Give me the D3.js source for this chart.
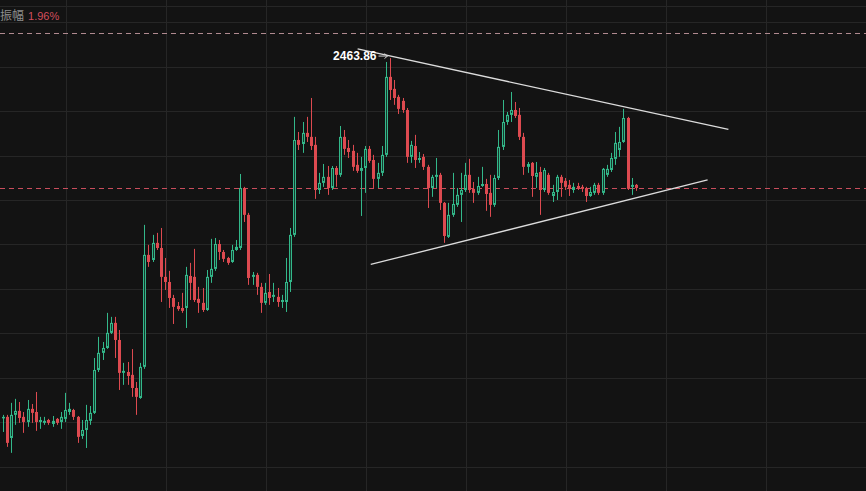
<!DOCTYPE html>
<html><head><meta charset="utf-8">
<script src="https://cdn.jsdelivr.net/npm/d3@7"></script>
<style>html,body{margin:0;padding:0;background:#131313;overflow:hidden}</style>
</head><body><svg id="c" width="866" height="491"></svg>
<script>
// ---- data (OHLC, one candle per period) ----
const opens=[2301.9,2302.4,2292.9,2303.3,2305.1,2302.4,2300.1,2306.0,2304.6,2300.1,2299.7,2301.0,2299.2,2301.5,2300.1,2301.5,2304.6,2305.5,2302.4,2293.8,
2296.5,2300.6,2304.2,2323.5,2331.2,2333.4,2340.2,2344.7,2337.0,2322.2,2322.6,2321.3,2315.4,2310.9,2324.9,2375.3,2373.0,2380.7,2378.4,2365.4,
2363.1,2355.9,2352.3,2351.4,2351.4,2365.8,2365.4,2355.5,2353.7,2350.5,2365.4,2369.0,2380.2,2376.6,2373.9,2372.1,2377.5,2378.4,2405.4,2393.3,
2365.4,2366.3,2360.9,2353.7,2358.6,2356.4,2356.4,2354.1,2354.1,2363.1,2384.3,2427.0,2425.2,2430.2,2428.4,2424.8,2404.5,2407.7,2410.4,2405.4,
2414.4,2411.3,2428.4,2423.4,2422.1,2415.8,2413.1,2414.4,2423.0,2418.0,2409.5,2412.2,2420.3,2455.4,2450.0,2446.4,2444.6,2440.5,2419.4,2424.3,
2418.0,2419.4,2414.9,2405.4,2410.4,2411.3,2398.7,2383.4,2393.3,2397.8,2402.3,2404.5,2411.3,2405.0,2403.2,2406.3,2407.2,2403.2,2397.8,2409.9,
2423.9,2435.1,2438.3,2440.5,2438.3,2428.4,2414.9,2416.7,2410.4,2412.6,2404.5,2411.3,2401.8,2403.6,2410.4,2408.6,2406.8,2404.5,2406.3,2405.9,
2405.0,2401.8,2403.2,2406.8,2403.2,2411.3,2413.5,2418.5,2422.5,2426.1,2436.9,2405.9,2406.8];
const highs=[2303.3,2303.3,2308.7,2310.5,2309.1,2304.6,2310.0,2308.2,2313.6,2302.4,2302.4,2301.5,2302.8,2301.9,2304.6,2313.2,2308.7,2306.0,2302.8,2301.0,
2307.8,2307.3,2328.9,2338.4,2336.1,2349.2,2347.4,2347.4,2341.5,2326.7,2327.1,2332.9,2318.1,2326.7,2388.8,2379.8,2384.3,2385.2,2387.4,2373.9,
2368.1,2357.3,2354.1,2358.2,2369.9,2371.7,2378.0,2360.9,2360.4,2368.5,2382.5,2382.9,2382.0,2377.5,2374.4,2379.8,2382.0,2411.7,2405.9,2394.2,
2367.6,2367.2,2362.7,2362.7,2366.7,2362.7,2360.4,2357.3,2373.9,2387.4,2437.4,2430.6,2435.1,2437.4,2445.9,2428.4,2412.2,2416.2,2415.3,2415.3,
2415.3,2433.3,2431.5,2427.0,2424.8,2421.2,2419.4,2424.3,2424.3,2420.3,2416.7,2424.3,2462.1,2463.86,2454.0,2447.3,2445.9,2441.4,2426.6,2429.3,
2421.6,2420.7,2415.8,2411.3,2418.9,2412.2,2399.1,2398.7,2412.2,2405.4,2412.2,2416.7,2418.5,2408.1,2410.4,2414.9,2409.5,2411.3,2411.3,2431.5,
2445.0,2439.6,2448.6,2444.1,2441.4,2430.2,2417.1,2417.1,2417.1,2414.9,2414.4,2412.2,2406.8,2411.3,2411.3,2409.9,2409.0,2407.7,2407.7,2406.8,
2405.9,2405.9,2407.7,2407.7,2414.4,2415.8,2421.2,2430.6,2432.9,2441.0,2437.4,2409.9,2407.2];
const lows=[2295.6,2288.9,2286.2,2298.8,2299.7,2295.2,2297.9,2299.7,2296.1,2297.0,2298.8,2298.8,2297.9,2298.8,2297.0,2300.1,2303.3,2301.0,2290.7,2292.5,
2288.4,2298.8,2303.7,2322.6,2328.0,2333.0,2339.7,2328.9,2314.5,2316.8,2316.8,2311.4,2303.3,2310.5,2324.0,2369.9,2372.1,2377.5,2354.1,2359.5,
2351.4,2344.2,2350.1,2349.2,2342.4,2355.0,2354.1,2349.2,2349.6,2350.1,2362.7,2368.1,2373.0,2372.1,2370.8,2371.7,2377.1,2377.5,2390.1,2361.8,
2361.8,2357.3,2349.2,2352.8,2352.8,2354.1,2351.9,2351.4,2349.6,2358.6,2383.4,2422.5,2421.2,2426.1,2422.5,2400.5,2402.7,2405.9,2402.3,2404.5,
2405.9,2410.4,2420.3,2418.9,2413.1,2412.2,2392.8,2403.2,2416.7,2405.4,2405.4,2410.8,2419.4,2445.0,2442.8,2438.7,2439.2,2416.7,2416.7,2414.4,
2416.7,2413.5,2396.4,2401.4,2405.4,2395.5,2380.7,2382.9,2392.4,2396.9,2390.1,2403.6,2403.2,2398.7,2402.3,2405.9,2395.1,2392.4,2396.9,2409.0,
2422.5,2433.8,2435.1,2436.9,2427.0,2411.3,2412.2,2401.4,2405.4,2393.3,2403.6,2402.3,2399.1,2400.0,2401.4,2404.5,2401.8,2403.2,2404.5,2403.6,
2399.1,2401.4,2402.3,2402.3,2402.3,2410.4,2412.6,2415.8,2419.4,2425.7,2404.5,2402.3,2404.1];
const closes=[2302.4,2290.7,2303.3,2305.1,2301.9,2300.1,2306.0,2304.2,2300.1,2301.0,2300.6,2299.7,2300.6,2299.7,2302.4,2305.5,2306.0,2302.4,2293.4,2296.5,
2301.0,2304.2,2323.5,2331.2,2333.4,2340.2,2344.7,2337.0,2322.2,2323.1,2320.8,2315.4,2311.4,2324.9,2375.3,2372.1,2380.7,2378.4,2365.4,2363.1,
2355.9,2351.9,2350.9,2350.1,2366.3,2362.7,2355.0,2353.7,2350.5,2365.4,2369.0,2380.2,2376.6,2373.5,2371.7,2377.5,2378.9,2405.4,2393.3,2364.9,
2366.3,2360.9,2353.7,2358.2,2355.9,2357.3,2354.1,2355.0,2363.1,2384.3,2427.0,2424.8,2430.2,2428.4,2424.3,2404.5,2407.7,2410.4,2405.4,2414.4,
2411.3,2428.4,2423.0,2421.6,2414.9,2413.1,2414.4,2423.0,2417.6,2409.5,2412.2,2420.3,2455.4,2449.5,2445.9,2441.0,2440.5,2419.4,2424.8,2418.0,
2418.9,2414.9,2405.4,2410.4,2411.3,2398.7,2383.8,2393.3,2398.2,2402.3,2404.5,2411.3,2404.5,2403.2,2406.3,2407.2,2402.7,2397.8,2409.9,2423.9,
2435.1,2438.3,2440.5,2437.8,2428.4,2414.9,2416.2,2410.8,2412.2,2404.5,2413.5,2403.2,2403.6,2410.4,2407.7,2405.9,2405.0,2405.9,2405.4,2405.0,
2401.8,2403.6,2406.8,2403.2,2414.0,2414.0,2418.9,2425.7,2426.1,2436.9,2405.0,2406.8,2405.4];

const gridPrices=[2280,2300,2320,2340,2360,2380,2400,2420,2440,2460,2480];
const timeTicks=[15,39,63,87,111,135,159,183,207];
const refPrice=2475.2;
const upperLine=[[85.1,2467.95],[174.1,2431.8]];
const lowerLine=[[88.25,2371.0],[169.1,2409.0]];
const highIndex=93, highLabel="2463.86";
const ampLabel="振幅", ampValue="1.96%";

// ---- drawing ----
const W=866,H=491;
const svg=d3.select('#c');
svg.append('rect').attr('width',W).attr('height',H).attr('fill','#131313');
const n=opens.length;
const x=d3.scaleLinear().domain([0,n-1]).range([3,3+(n-1)*4.1667]);
const y=d3.scaleLinear().domain([2300,2480]).range([422.2,22.2]);
const grid='#262626';
const g=svg.append('g');
g.selectAll('line.h').data(gridPrices).enter().append('line')
 .attr('x1',0).attr('x2',W).attr('y1',d=>Math.round(y(d))+0.5).attr('y2',d=>Math.round(y(d))+0.5)
 .attr('stroke',grid).attr('stroke-width',1);
g.selectAll('line.v').data(timeTicks).enter().append('line')
 .attr('y1',0).attr('y2',H).attr('x1',d=>Math.round(x(d))+0.5).attr('x2',d=>Math.round(x(d))+0.5)
 .attr('stroke',grid).attr('stroke-width',1);
g.append('line').attr('x1',0).attr('x2',W).attr('y1',6.5).attr('y2',6.5).attr('stroke',grid);

// reference dashed lines
svg.append('line').attr('x1',0).attr('x2',W).attr('y1',Math.round(y(refPrice))+0.5).attr('y2',Math.round(y(refPrice))+0.5)
 .attr('stroke','#b08a90').attr('stroke-width',1).attr('stroke-dasharray','5,4');
const last=closes[n-1];
svg.append('line').attr('x1',0).attr('x2',W).attr('y1',Math.round(y(last))+0.5).attr('y2',Math.round(y(last))+0.5)
 .attr('stroke','#c94d5c').attr('stroke-width',1).attr('stroke-dasharray','5,4');

// candles
const GREEN='#33b88a', RED='#dd4a50', GFILL='#163a2e';
const data=d3.range(n).map(i=>({i,o:opens[i],h:highs[i],l:lows[i],c:closes[i]}));
const cg=svg.append('g');
data.forEach(d=>{
  const left=Math.round(x(d.i)-1.5), cx=left+1.5;
  const up=d.c>=d.o;
  const col=up?GREEN:RED;
  cg.append('line').attr('x1',cx).attr('x2',cx).attr('y1',y(d.h)).attr('y2',y(d.l)).attr('stroke',col).attr('stroke-width',1);
  const top=y(Math.max(d.o,d.c)), bot=y(Math.min(d.o,d.c));
  const hgt=Math.max(1,bot-top);
  if(up){
    cg.append('rect').attr('x',left+0.5).attr('y',top+0.5).attr('width',2).attr('height',Math.max(0.5,hgt-1))
      .attr('fill',GFILL).attr('stroke',col).attr('stroke-width',1);
  } else {
    cg.append('rect').attr('x',left).attr('y',top).attr('width',3).attr('height',hgt).attr('fill',col);
  }
});

// triangle trend lines
const lg=d3.line().x(d=>x(d[0])).y(d=>y(d[1]));
[upperLine,lowerLine].forEach(L=>{
  svg.append('path').attr('d',lg(L)).attr('fill','none').attr('stroke','#dcdcdc').attr('stroke-width',1.3);
});

// high annotation
const hx=x(highIndex), hy=y(highs[highIndex]);
const ay=hy-2;
svg.append('path').attr('d',`M${hx-12},${ay}L${hx-3},${ay}M${hx-6},${ay-2.5}L${hx-3},${ay}L${hx-6},${ay+2.5}`)
 .attr('fill','none').attr('stroke','#d0d0d0').attr('stroke-width',1);
svg.append('text').attr('x',hx-14).attr('y',hy+2).attr('text-anchor','end')
 .attr('fill','#ffffff').attr('font-family','Liberation Sans, Arial, sans-serif').attr('font-size',12).attr('font-weight','bold')
 .text(highLabel);

// header
const ht=svg.append('text').attr('x',0).attr('y',20).attr('font-size',12);
ht.append('tspan').attr('font-family','Noto Sans CJK SC').attr('fill','#8e8e8e').text(ampLabel);
ht.append('tspan').attr('dx',4).attr('font-family','Liberation Sans, Arial, sans-serif').attr('font-size',11).attr('fill','#d24e5d').text(ampValue);
</script>
</body></html>
